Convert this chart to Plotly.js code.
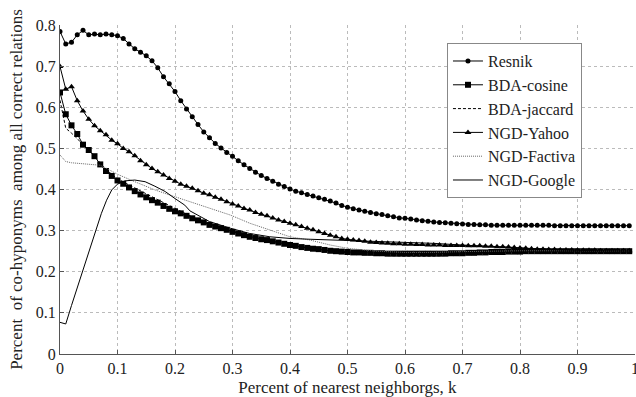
<!DOCTYPE html>
<html><head><meta charset="utf-8">
<script src="https://cdn.plot.ly/plotly-3.0.1.min.js"></script>
<style>html,body{margin:0;padding:0;background:#fff}#chart{width:636px;height:397px}</style>
</head><body><div id="chart"></div>
<script>
// x grid for marker series (0.00 .. 0.99)
const kGrid = [];
for (let i = 0; i < 100; i++) kGrid.push(+(i / 100).toFixed(2));

const resnik = [0.784,0.754,0.758,0.776,0.787,0.776,0.778,0.776,0.778,0.776,
0.774,0.767,0.754,0.742,0.734,0.725,0.713,0.696,0.674,0.657,
0.638,0.616,0.596,0.577,0.558,0.540,0.526,0.512,0.501,0.490,
0.481,0.470,0.460,0.451,0.442,0.434,0.427,0.420,0.413,0.407,
0.401,0.396,0.392,0.388,0.384,0.380,0.376,0.372,0.367,0.361,
0.357,0.353,0.350,0.347,0.344,0.341,0.339,0.336,0.334,0.331,
0.330,0.328,0.326,0.324,0.323,0.321,0.320,0.319,0.318,0.317,
0.316,0.315,0.315,0.314,0.314,0.313,0.313,0.313,0.313,0.313,
0.313,0.313,0.313,0.313,0.313,0.313,0.312,0.312,0.312,0.312,
0.312,0.312,0.312,0.312,0.312,0.312,0.312,0.312,0.312,0.312];

const bdaCosine = [0.636,0.583,0.556,0.535,0.509,0.496,0.481,0.461,0.445,0.433,
0.422,0.414,0.405,0.396,0.388,0.381,0.374,0.368,0.360,0.353,
0.347,0.342,0.336,0.330,0.325,0.320,0.314,0.310,0.306,0.302,
0.297,0.293,0.289,0.285,0.282,0.279,0.277,0.274,0.271,0.268,
0.265,0.263,0.260,0.258,0.256,0.255,0.253,0.251,0.250,0.249,
0.248,0.247,0.247,0.246,0.246,0.245,0.245,0.244,0.244,0.244,
0.244,0.244,0.244,0.244,0.244,0.244,0.244,0.244,0.245,0.245,
0.245,0.246,0.246,0.247,0.247,0.248,0.248,0.248,0.249,0.249,
0.249,0.250,0.250,0.250,0.250,0.250,0.250,0.250,0.250,0.250,
0.250,0.250,0.250,0.250,0.250,0.250,0.250,0.250,0.250,0.250];

const ngdYahoo = [0.699,0.644,0.650,0.616,0.591,0.571,0.555,0.543,0.533,0.520,
0.511,0.500,0.492,0.482,0.470,0.460,0.451,0.443,0.435,0.427,
0.420,0.413,0.408,0.403,0.397,0.391,0.387,0.381,0.376,0.370,
0.365,0.360,0.354,0.350,0.344,0.340,0.336,0.331,0.326,0.322,
0.318,0.314,0.310,0.306,0.302,0.297,0.293,0.289,0.285,0.281,
0.279,0.277,0.276,0.274,0.272,0.271,0.270,0.269,0.268,0.268,
0.267,0.267,0.266,0.266,0.265,0.265,0.265,0.264,0.264,0.264,
0.264,0.263,0.263,0.263,0.262,0.262,0.261,0.261,0.260,0.259,
0.258,0.257,0.256,0.255,0.255,0.254,0.254,0.253,0.253,0.253,
0.252,0.252,0.252,0.252,0.251,0.251,0.251,0.251,0.251,0.251];

const jaccardK = [0,0.01,0.02,0.03,0.04,0.05,0.06,0.07,0.08,0.09,0.10,0.12,0.14,0.16,0.18,0.20,0.22,0.25,0.30,0.35,0.40,0.45,0.50,0.55,0.60,0.65,0.70,0.75,0.80,0.85,0.90,0.99];
const bdaJaccard = [0.617,0.549,0.537,0.524,0.508,0.496,0.482,0.464,0.449,0.437,0.426,0.411,0.396,0.382,0.368,0.354,0.340,0.323,0.298,0.280,0.265,0.254,0.246,0.240,0.238,0.238,0.241,0.245,0.249,0.250,0.250,0.250];

const factivaK = [0,0.01,0.02,0.04,0.06,0.07,0.08,0.10,0.13,0.165,0.19,0.21,0.226,0.26,0.296,0.33,0.365,0.40,0.435,0.47,0.50,0.55,0.60,0.65,0.70,0.80,0.90,0.99];
const ngdFactiva = [0.484,0.468,0.465,0.463,0.460,0.459,0.452,0.437,0.419,0.399,0.387,0.378,0.370,0.354,0.338,0.318,0.302,0.285,0.277,0.265,0.257,0.250,0.247,0.247,0.249,0.251,0.251,0.250];

const googleK = [0,0.01,0.02,0.035,0.049,0.061,0.072,0.081,0.09,0.10,0.113,0.13,0.148,0.165,0.183,0.20,0.217,0.226,0.26,0.296,0.33,0.365,0.40,0.435,0.487,0.55,0.60,0.65,0.70,0.75,0.80,0.85,0.90,0.99];
const ngdGoogle = [0.077,0.073,0.118,0.184,0.245,0.293,0.342,0.374,0.399,0.413,0.421,0.423,0.419,0.408,0.395,0.378,0.362,0.348,0.322,0.306,0.293,0.285,0.281,0.279,0.277,0.274,0.272,0.269,0.265,0.261,0.257,0.254,0.252,0.250];

const xTicks = [0,0.1,0.2,0.3,0.4,0.5,0.6,0.7,0.8,0.9,1];
const yTicks = [0,0.1,0.2,0.3,0.4,0.5,0.6,0.7,0.8];

const ink = '#000';
const traces = [
  {name:'Resnik', x:kGrid, y:resnik, mode:'lines+markers', line:{color:ink,width:1}, marker:{symbol:'circle',size:5,color:ink}},
  {name:'BDA-cosine', x:kGrid, y:bdaCosine, mode:'lines+markers', line:{color:ink,width:1}, marker:{symbol:'square',size:6,color:ink}},
  {name:'BDA-jaccard', x:jaccardK, y:bdaJaccard, mode:'lines', line:{color:ink,width:1,dash:'3px,2px'}},
  {name:'NGD-Yahoo', x:kGrid, y:ngdYahoo, mode:'lines+markers', line:{color:ink,width:1}, marker:{symbol:'triangle-up',size:6,color:ink}},
  {name:'NGD-Factiva', x:factivaK, y:ngdFactiva, mode:'lines', line:{color:'#666',width:1,dash:'1px,1px'}},
  {name:'NGD-Google', x:googleK, y:ngdGoogle, mode:'lines', line:{color:ink,width:1}}
];

const fam = 'Liberation Serif';
const f = (s) => ({family:fam, size:s, color:'#222'});
const layout = {
  width:636, height:397,
  margin:{l:60, r:1, t:25, b:43},
  paper_bgcolor:'#fff', plot_bgcolor:'#fff',
  font:f(16),
  showlegend:true,
  legend:{x:0.673, y:0.945, xanchor:'left', yanchor:'top', bgcolor:'#fff', bordercolor:'#888', borderwidth:1,
          font:f(16), tracegroupgap:0, itemwidth:30, entrywidth:126, entrywidthmode:'pixels'},
  xaxis:{range:[0,1], tickvals:xTicks, ticktext:xTicks.map(String), showgrid:true, gridcolor:'#bbb', griddash:'dot', gridwidth:1,
         zeroline:false, showline:true, linecolor:'#555', linewidth:1, ticks:'inside', ticklen:4, tickcolor:'#555',
         tickfont:f(16), ticklabeloverflow:'allow',
         title:{text:'Percent of nearest neighborgs, k', font:f(17), standoff:5}},
  yaxis:{range:[0,0.8], tickvals:yTicks, ticktext:yTicks.map(String), showgrid:true, gridcolor:'#bbb', griddash:'dot', gridwidth:1,
         zeroline:false, showline:true, linecolor:'#555', linewidth:1, ticks:'inside', ticklen:4, tickcolor:'#555',
         tickfont:f(16), ticklabeloverflow:'allow',
         title:{text:'Percent\u00a0 of co-hyponyms\u00a0 among all correct relations', font:f(17), standoff:8}}
};
Plotly.newPlot('chart', traces, layout, {displayModeBar:false, staticPlot:true});
</script></body></html>
